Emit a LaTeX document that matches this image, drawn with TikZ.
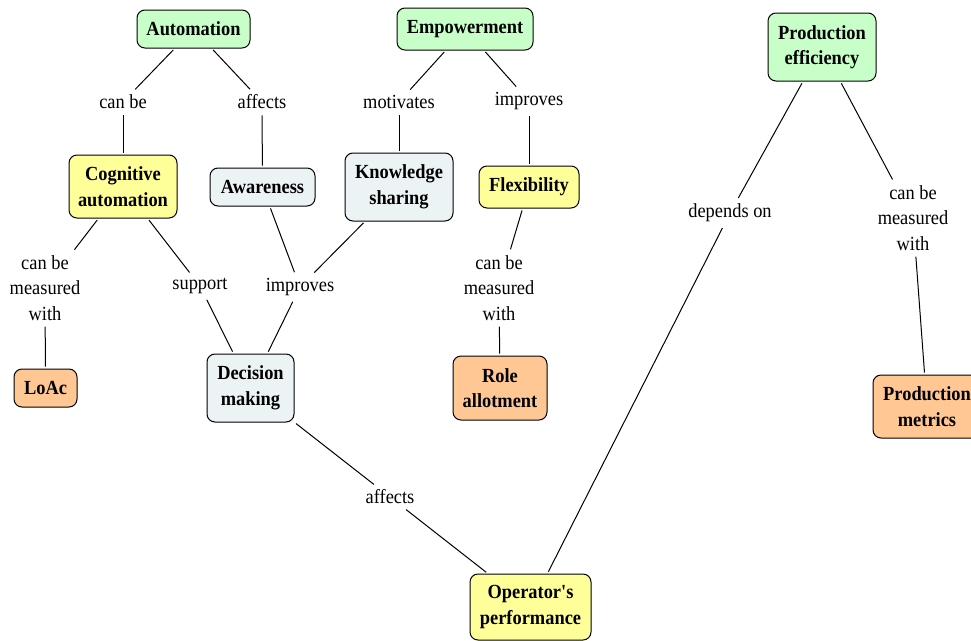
\documentclass[tikz,border=0pt]{standalone}
\usepackage{fontspec}
\setmainfont[FakeStretch=0.92, Ligatures=TeXOff]{Liberation Serif}
\definecolor{cgreen}{RGB}{200,255,200}
\definecolor{cyellow}{RGB}{255,255,153}
\definecolor{cblue}{RGB}{236,243,244}
\definecolor{corange}{RGB}{255,199,148}
\tikzset{
  concept/.style={draw=black, line width=1pt, rounded corners=8pt, align=center,
    font=\fontsize{20}{25.5}\selectfont\bfseries, inner sep=2pt},
  lbl/.style={align=center, font=\fontsize{20}{25.5}\selectfont, inner xsep=3pt, inner ysep=4pt},
  link/.style={line width=1pt, draw=black, shorten <=2pt, shorten >=2pt}
}
\begin{document}
\begin{tikzpicture}[x=1pt,y=-1pt]
\useasboundingbox (0,0) rectangle (971,640);
\clip (0,0) rectangle (971,640);
% concepts
\node[concept, fill=cgreen, minimum width=113, minimum height=38] (auto) at (193.5,29) {Automation};
\node[concept, fill=cgreen, minimum width=136, minimum height=42] (emp) at (465,29) {Empowerment};
\node[concept, fill=cgreen, minimum width=108, minimum height=68] (pe) at (822,47) {Production\\efficiency};
\node[concept, fill=cyellow, minimum width=108, minimum height=63] (cog) at (123,186.5) {Cognitive\\automation};
\node[concept, fill=cblue, minimum width=105, minimum height=38] (aw) at (262.5,187) {Awareness};
\node[concept, fill=cblue, minimum width=108, minimum height=68] (ks) at (399,187) {Knowledge\\sharing};
\node[concept, fill=cyellow, minimum width=100, minimum height=42] (flex) at (529,187) {Flexibility};
\node[concept, fill=corange, minimum width=63, minimum height=38] (loac) at (45.5,388) {LoAc};
\node[concept, fill=cblue, minimum width=87, minimum height=68] (dm) at (250.5,388) {Decision\\making};
\node[concept, fill=corange, minimum width=94, minimum height=64] (role) at (500,388) {Role\\allotment};
\node[concept, fill=corange, minimum width=108, minimum height=63] (pm) at (927,406.5) {Production\\metrics};
\node[concept, fill=cyellow, minimum width=121, minimum height=66] (op) at (530.5,607) {Operator's\\performance};
% link labels
\node[lbl] (l1) at (123,102) {can be};
\node[lbl] (l2) at (262,102) {affects};
\node[lbl] (l3) at (399,102) {motivates};
\node[lbl] (l4) at (529,101) {improves};
\node[lbl] (l5) at (730,213) {depends on};
\node[lbl] (l6) at (913,218) {can be\\measured\\with};
\node[lbl] (l7) at (45,288) {can be\\measured\\with};
\node[lbl] (l8) at (200,286) {support};
\node[lbl] (l9) at (300,287) {improves};
\node[lbl] (l10) at (499,288) {can be\\measured\\with};
\node[lbl] (l11) at (390,497) {affects};
% connectors
\draw[link] (auto) -- (l1);
\draw[link] (l1) -- (cog);
\draw[link] (auto) -- (l2);
\draw[link] (l2) -- (aw);
\draw[link] (emp) -- (l3);
\draw[link] (l3) -- (ks);
\draw[link] (emp) -- (l4);
\draw[link] (l4) -- (flex);
\draw[link] (cog) -- (l7);
\draw[link] (l7) -- (loac);
\draw[link] (cog) -- (l8);
\draw[link] (l8) -- (dm);
\draw[link] (aw) -- (l9);
\draw[link] (ks) -- (l9);
\draw[link] (l9) -- (dm);
\draw[link] (flex) -- (l10);
\draw[link] (l10) -- (role);
\draw[link] (dm) -- (l11);
\draw[link] (l11) -- (op);
\draw[link] (op) -- (l5);
\draw[link] (l5) -- (pe);
\draw[link] (pe) -- (l6);
\draw[link] (l6) -- (pm);
\end{tikzpicture}
\end{document}
